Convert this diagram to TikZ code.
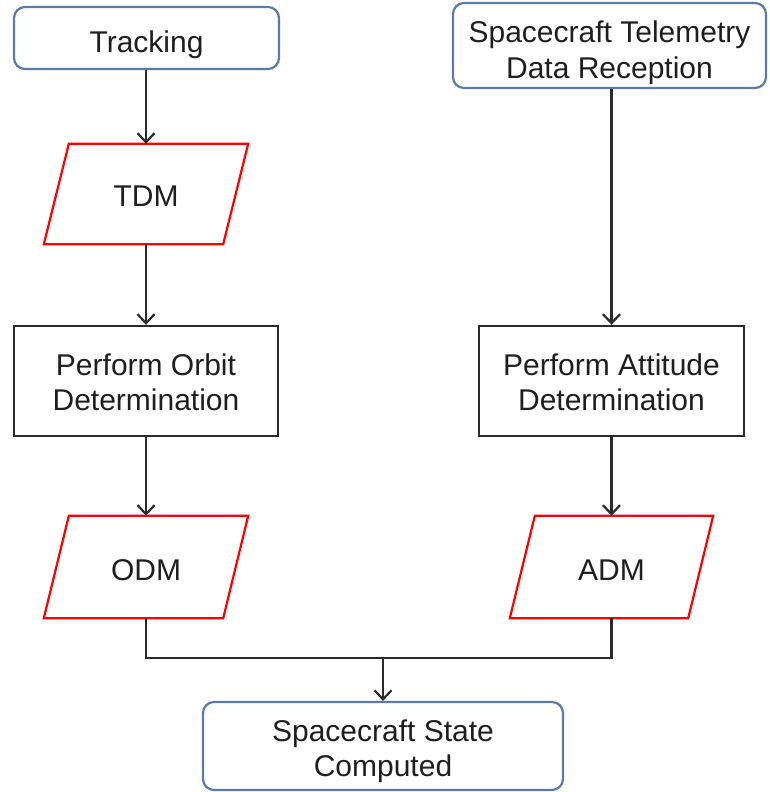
\documentclass[tikz,border=0pt]{standalone}
\usepackage{fontspec}
\setmainfont{Liberation Sans}
\usetikzlibrary{arrows.meta}
\definecolor{boxblue}{HTML}{5A7BA6}
\definecolor{txt}{HTML}{1E1E1E}
\definecolor{linec}{HTML}{2A2A2A}
% text placed so that the capitals sit centred in the node, with a fine offset
\newcommand\oneline[2][0pt]{\smash{\raisebox{\dimexpr-10.5pt+#1\relax}{#2}}}
\newcommand\twoline[3][0pt]{\smash{\raisebox{\dimexpr-28pt+#1\relax}{\begin{tabular}[b]{@{}c@{}}#2\\#3\end{tabular}}}}
\tikzset{
  basetext/.style={text=txt, font=\fontsize{30}{35}\selectfont, inner sep=0pt},
  roundbox/.style={basetext, draw=boxblue, line width=2.2pt, rounded corners=11pt},
  procbox/.style={basetext, draw=linec, line width=2.4pt},
  databox/.style={basetext, draw=none},
  para/.style={draw=red, line width=2.2pt, line join=miter},
  conn/.style={draw=linec, line width=2.4pt},
  arr/.style={conn, -{Straight Barb[length=9pt,width=17pt,line width=2.2pt]}}
}
\begin{document}
\begin{tikzpicture}[x=1pt,y=-1pt]
\useasboundingbox (0,0) rectangle (769,792);

\node[roundbox, minimum width=265pt, minimum height=62pt] (track) at (146.5,38) {\oneline[-3.5pt]{Tracking}};
\node[roundbox, minimum width=313pt, minimum height=85pt] (telem) at (609.5,45.5) {\twoline[-4.5pt]{Spacecraft Telemetry}{Data Reception}};

\node[databox, minimum width=204pt, minimum height=100pt] (tdm) at (146,194) {\oneline[-1.5pt]{TDM}};
\node[procbox, minimum width=264pt, minimum height=110pt] (pod) at (146,381) {\twoline[-1pt]{Perform Orbit}{Determination}};
\node[procbox, minimum width=265pt, minimum height=110pt] (pad) at (611.5,381) {\twoline[-1pt]{Perform Attitude}{Determination}};
\node[databox, minimum width=204pt, minimum height=102pt] (odm) at (146,567) {\oneline[-2.5pt]{ODM}};
\node[databox, minimum width=203pt, minimum height=102pt] (adm) at (611.5,567) {\oneline[-2.5pt]{ADM}};
\node[roundbox, minimum width=360pt, minimum height=88pt] (state) at (383,746) {\twoline[-2pt]{Spacecraft State}{Computed}};

\foreach \n in {tdm,odm,adm}{
  \draw[para] ([xshift=25pt]\n.north west) -- (\n.north east) -- ([xshift=-25pt]\n.south east) -- (\n.south west) -- cycle;
}

\coordinate (merge) at (383,658);

\draw[arr] (track.south -| tdm.north) -- (tdm.north);
\draw[arr] (tdm.south) -- (pod.north);
\draw[arr] (pod.south) -- (odm.north);
\draw[arr] (telem.south -| pad.north) -- (pad.north);
\draw[arr] (pad.south) -- (adm.north);
\draw[conn] (odm.south) -- (odm.south |- merge) -- (adm.south |- merge) -- (adm.south);
\draw[arr] (merge) -- (state.north);
\end{tikzpicture}
\end{document}
